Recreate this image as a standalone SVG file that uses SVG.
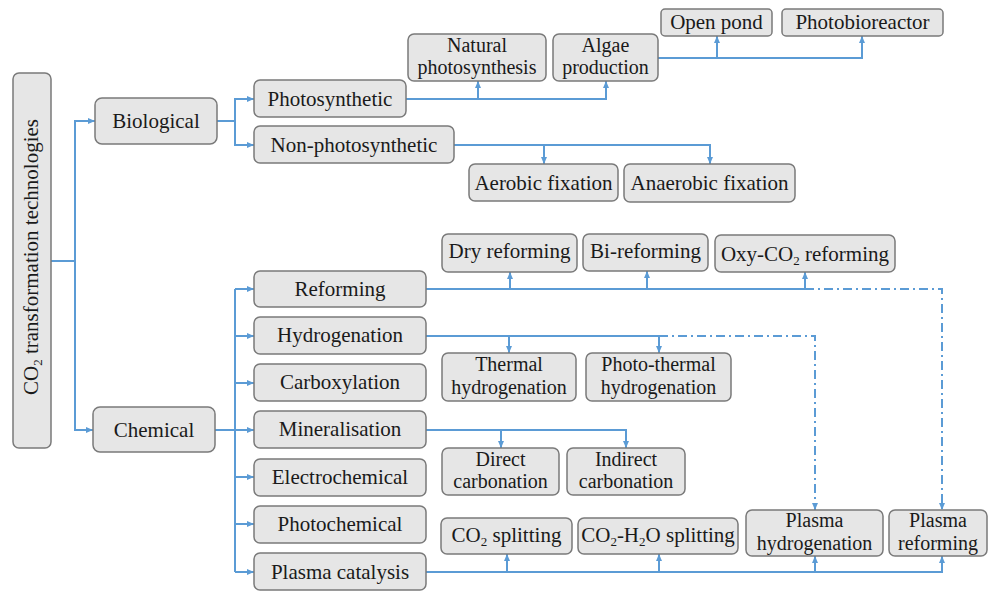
<svg xmlns="http://www.w3.org/2000/svg" width="989" height="592" viewBox="0 0 989 592">
<defs>
<style>
.box{fill:#e6e6e6;stroke:#7a7a7a;stroke-width:1.5}
.t{font-family:'Liberation Serif','Times New Roman',serif;font-size:21px;fill:#1a1a1a;text-anchor:middle}
.t2{font-size:20px}
.s{font-size:13px}
.c{fill:none;stroke:#5b9bd5;stroke-width:2}
.d{fill:none;stroke:#5b9bd5;stroke-width:2;stroke-dasharray:9 4 2 4}
</style>
<marker id="ah" viewBox="0 0 7 6" refX="7" refY="3" markerWidth="7" markerHeight="6" markerUnits="userSpaceOnUse" orient="auto">
<path d="M0,0 L7,3 L0,6 z" fill="#5b9bd5"/>
</marker>
</defs>
<rect width="989" height="592" fill="#ffffff"/>

<g id="connectors">
<path class="c" d="M51,261 H75"/>
<path class="c" d="M75,261 V121 H95" marker-end="url(#ah)"/>
<path class="c" d="M75,261 V430 H93" marker-end="url(#ah)"/>
<path class="c" d="M217,121 H235 V99 H254" marker-end="url(#ah)"/>
<path class="c" d="M235,121 V145 H254" marker-end="url(#ah)"/>
<path class="c" d="M406,99 H606 V81" marker-end="url(#ah)"/>
<path class="c" d="M478,99 V81" marker-end="url(#ah)"/>
<path class="c" d="M658,58 H862 V36" marker-end="url(#ah)"/>
<path class="c" d="M717,58 V36" marker-end="url(#ah)"/>
<path class="c" d="M454,145 H710 V164" marker-end="url(#ah)"/>
<path class="c" d="M544,145 V164" marker-end="url(#ah)"/>
<path class="c" d="M215,430 H235"/>
<path class="c" d="M235,289 V572"/>
<path class="c" d="M235,289 H254" marker-end="url(#ah)"/>
<path class="c" d="M235,336 H254" marker-end="url(#ah)"/>
<path class="c" d="M235,383 H254" marker-end="url(#ah)"/>
<path class="c" d="M235,430 H254" marker-end="url(#ah)"/>
<path class="c" d="M235,477 H254" marker-end="url(#ah)"/>
<path class="c" d="M235,524 H254" marker-end="url(#ah)"/>
<path class="c" d="M235,572 H254" marker-end="url(#ah)"/>
<path class="c" d="M426,289 H805 V272" marker-end="url(#ah)"/>
<path class="c" d="M510,289 V272" marker-end="url(#ah)"/>
<path class="c" d="M647,289 V271" marker-end="url(#ah)"/>
<path class="d" d="M805,289 H942 V510" marker-end="url(#ah)"/>
<path class="c" d="M426,336 H659 V353" marker-end="url(#ah)"/>
<path class="c" d="M509,336 V353" marker-end="url(#ah)"/>
<path class="d" d="M659,336 H815 V510" marker-end="url(#ah)"/>
<path class="c" d="M426,430 H626 V448" marker-end="url(#ah)"/>
<path class="c" d="M501,430 V448" marker-end="url(#ah)"/>
<path class="c" d="M426,572 H942 V556" marker-end="url(#ah)"/>
<path class="c" d="M507,572 V554" marker-end="url(#ah)"/>
<path class="c" d="M659,572 V554" marker-end="url(#ah)"/>
<path class="c" d="M815,572 V556" marker-end="url(#ah)"/>
</g>

<g id="root"><rect class="box" x="13" y="73" width="38" height="375" rx="6"/>
<text class="t" transform="translate(38,257) rotate(-90)">CO<tspan class="s" dy="4">2</tspan><tspan dy="-4"> transformation technologies</tspan></text></g>

<g id="biological"><rect class="box" x="95" y="98" width="122" height="46" rx="7"/><text class="t" x="156" y="128">Biological</text></g>
<g id="chemical"><rect class="box" x="93" y="407" width="122" height="45" rx="7"/><text class="t" x="154" y="437">Chemical</text></g>

<g id="photosynthetic"><rect class="box" x="254" y="80" width="152" height="37" rx="6"/><text class="t" x="330" y="106">Photosynthetic</text></g>
<g id="non-photosynthetic"><rect class="box" x="254" y="126" width="200" height="37" rx="6"/><text class="t" x="354" y="152">Non-photosynthetic</text></g>

<g id="natural-photosynthesis"><rect class="box" x="408" y="34" width="138" height="47" rx="6"/><text class="t t2"><tspan x="477" y="51.5">Natural</tspan><tspan x="477" y="74">photosynthesis</tspan></text></g>
<g id="algae-production"><rect class="box" x="553" y="34" width="105" height="47" rx="6"/><text class="t t2"><tspan x="605.5" y="51.5">Algae</tspan><tspan x="605.5" y="74">production</tspan></text></g>
<g id="open-pond"><rect class="box" x="661" y="9" width="111" height="27" rx="4"/><text class="t" x="716.5" y="29">Open pond</text></g>
<g id="photobioreactor"><rect class="box" x="782" y="9" width="161" height="27" rx="4"/><text class="t" x="862.5" y="29">Photobioreactor</text></g>
<g id="aerobic-fixation"><rect class="box" x="469" y="164" width="149" height="37" rx="6"/><text class="t" x="543.5" y="190">Aerobic fixation</text></g>
<g id="anaerobic-fixation"><rect class="box" x="624" y="164" width="171" height="38" rx="6"/><text class="t" x="709.5" y="190">Anaerobic fixation</text></g>

<g id="reforming"><rect class="box" x="254" y="271" width="172" height="36" rx="6"/><text class="t" x="340" y="296">Reforming</text></g>
<g id="hydrogenation"><rect class="box" x="254" y="317" width="172" height="37" rx="6"/><text class="t" x="340" y="342">Hydrogenation</text></g>
<g id="carboxylation"><rect class="box" x="254" y="364" width="172" height="37" rx="6"/><text class="t" x="340" y="389">Carboxylation</text></g>
<g id="mineralisation"><rect class="box" x="254" y="411" width="172" height="37" rx="6"/><text class="t" x="340" y="436">Mineralisation</text></g>
<g id="electrochemical"><rect class="box" x="254" y="459" width="172" height="37" rx="6"/><text class="t" x="340" y="484">Electrochemical</text></g>
<g id="photochemical"><rect class="box" x="254" y="506" width="172" height="37" rx="6"/><text class="t" x="340" y="531">Photochemical</text></g>
<g id="plasma-catalysis"><rect class="box" x="254" y="553" width="172" height="37" rx="6"/><text class="t" x="340" y="579">Plasma catalysis</text></g>

<g id="dry-reforming"><rect class="box" x="442" y="234" width="135" height="38" rx="6"/><text class="t" x="509.5" y="258">Dry reforming</text></g>
<g id="bi-reforming"><rect class="box" x="583" y="234" width="125" height="37" rx="6"/><text class="t" x="645.5" y="258">Bi-reforming</text></g>
<g id="oxy-co2-reforming"><rect class="box" x="715" y="235" width="180" height="37" rx="6"/><text class="t" x="805" y="261">Oxy-CO<tspan class="s" dy="4">2</tspan><tspan dy="-4"> reforming</tspan></text></g>

<g id="thermal-hydrogenation"><rect class="box" x="442" y="353" width="134" height="48" rx="6"/><text class="t t2"><tspan x="509" y="371">Thermal</tspan><tspan x="509" y="393.5">hydrogenation</tspan></text></g>
<g id="photo-thermal-hydrogenation"><rect class="box" x="586" y="353" width="145" height="48" rx="6"/><text class="t t2"><tspan x="658.5" y="371">Photo-thermal</tspan><tspan x="658.5" y="393.5">hydrogenation</tspan></text></g>

<g id="direct-carbonation"><rect class="box" x="442" y="448" width="117" height="47" rx="6"/><text class="t t2"><tspan x="500.5" y="465.5">Direct</tspan><tspan x="500.5" y="488">carbonation</tspan></text></g>
<g id="indirect-carbonation"><rect class="box" x="567" y="448" width="118" height="47" rx="6"/><text class="t t2"><tspan x="626" y="465.5">Indirect</tspan><tspan x="626" y="488">carbonation</tspan></text></g>

<g id="co2-splitting"><rect class="box" x="441" y="518" width="131" height="36" rx="6"/><text class="t" x="506.5" y="542">CO<tspan class="s" dy="4">2</tspan><tspan dy="-4"> splitting</tspan></text></g>
<g id="co2-h2o-splitting"><rect class="box" x="578" y="518" width="160" height="36" rx="6"/><text class="t" x="658" y="542">CO<tspan class="s" dy="4">2</tspan><tspan dy="-4">-H</tspan><tspan class="s" dy="4">2</tspan><tspan dy="-4">O splitting</tspan></text></g>
<g id="plasma-hydrogenation"><rect class="box" x="746" y="510" width="137" height="46" rx="6"/><text class="t t2"><tspan x="814.5" y="527">Plasma</tspan><tspan x="814.5" y="549.5">hydrogenation</tspan></text></g>
<g id="plasma-reforming"><rect class="box" x="889" y="510" width="98" height="46" rx="6"/><text class="t t2"><tspan x="938" y="527">Plasma</tspan><tspan x="938" y="549.5">reforming</tspan></text></g>
</svg>
